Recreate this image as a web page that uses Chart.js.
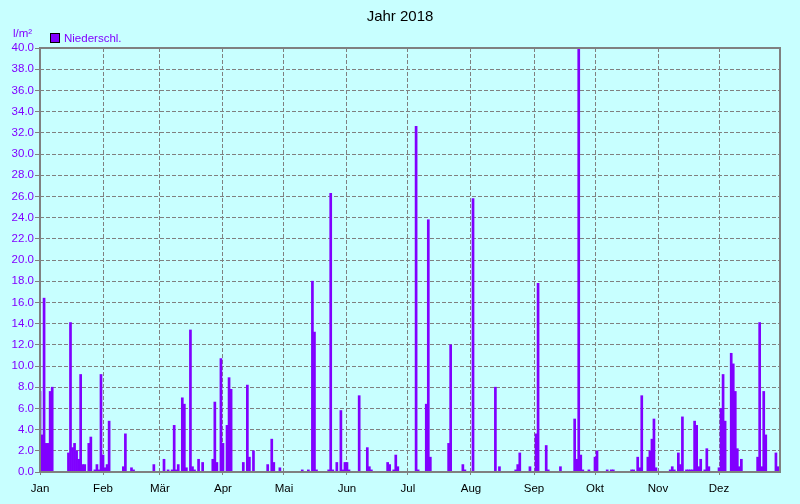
<!DOCTYPE html>
<html><head><meta charset="utf-8">
<script src="https://cdn.jsdelivr.net/npm/chart.js@4/dist/chart.umd.min.js"></script>
<style>html,body{margin:0;padding:0;background:#C8FFFF;} canvas{display:block;}</style>
</head><body>
<canvas id="c" width="800" height="504"></canvas>
<script>
const chartTitle = 'Jahr 2018';
const seriesLabel = 'Niederschl.';
const unitLabel = 'l/m²';
const monthLabels = ['Jan','Feb','Mär','Apr','Mai','Jun','Jul','Aug','Sep','Okt','Nov','Dez'];
const monthStartDays = [0,31,59,90,120,151,181,212,243,273,304,334];
const dayCount = 365;
// day of year (0 = 1 Jan) with precipitation
const wetDays = [0,1,2,3,4,5,6,14,15,16,17,18,19,20,21,22,24,25,27,28,29,30,31,32,33,34,41,42,45,46,56,
  61,63,65,66,67,68,70,71,72,74,75,76,78,80,85,86,87,89,90,92,93,94,100,102,103,105,112,114,115,118,
  129,132,134,135,136,142,143,144,146,148,149,150,151,152,157,161,162,163,171,172,174,175,176,
  185,186,190,191,192,201,202,208,209,213,224,226,234,235,236,241,244,245,249,250,256,
  263,264,265,266,267,270,273,274,279,281,282,291,292,294,295,296,299,300,301,302,303,
  310,311,312,314,315,316,318,319,320,321,322,323,324,325,327,328,329,
  334,335,336,337,340,341,342,343,344,345,353,354,355,356,357,362,363];
// amount in l/m² for each of those days
const wetAmounts = [7.6,3.5,16.4,2.7,2.7,7.6,8.0,1.8,14.1,2.3,2.7,2.0,1.2,9.2,0.7,0.7,2.7,3.3,0.2,0.7,0.2,9.2,1.6,0.4,0.7,4.8,0.5,3.6,0.4,0.2,0.7,
  1.2,0.2,0.2,4.4,0.2,0.7,7.0,6.4,0.4,13.4,0.5,0.2,1.2,0.9,1.2,6.6,0.9,10.7,2.7,4.4,8.9,7.8,0.9,8.2,1.4,2.0,0.7,3.1,0.9,0.4,
  0.2,0.2,18.0,13.2,0.2,0.2,26.3,0.2,0.9,5.8,0.2,0.9,0.9,0.2,7.2,2.3,0.5,0.2,0.9,0.7,0.2,1.6,0.5,
  32.6,0.2,6.4,23.8,1.4,2.7,12.0,0.7,0.2,25.8,8.0,0.5,0.2,0.7,1.8,0.5,3.6,17.8,2.5,0.2,0.5,
  5.0,1.2,39.9,1.6,0.2,0.2,1.4,2.0,0.2,0.2,0.2,0.2,0.2,1.4,0.4,7.2,1.4,2.0,3.1,5.0,0.4,
  0.2,0.5,0.2,1.8,0.7,5.2,0.2,0.2,0.2,0.2,4.8,4.4,0.5,1.2,0.2,2.2,0.5,
  0.4,6.0,9.2,4.8,11.2,10.2,7.6,2.2,0.5,1.2,1.4,14.1,0.5,7.6,3.5,1.8,0.5];
const yMin = 0, yMax = 40, yStep = 2;

const BG = '#C8FFFF';
const PURPLE = '#8000FF';
const GRID = '#808080';
const FONT = '"Liberation Sans", Arial, sans-serif';

const rain = new Array(dayCount).fill(0);
wetDays.forEach((d, i) => { rain[d] = wetAmounts[i]; });
const points = rain.map((v, d) => ({x: d, y: v}));

const decor = {
  id: 'decor',
  beforeDraw(chart) {
    const c = chart.ctx;
    c.save(); c.fillStyle = BG; c.fillRect(0, 0, chart.width, chart.height); c.restore();
  },
  afterDatasetsDraw(chart) {
    const c = chart.ctx, a = chart.chartArea;
    c.save();
    c.strokeStyle = GRID; c.lineWidth = 2;
    c.strokeRect(Math.round(a.left), Math.round(a.top), Math.round(a.right - a.left), Math.round(a.bottom - a.top));
    c.restore();
  },
  afterDraw(chart) {
    const c = chart.ctx;
    c.save();
    c.fillStyle = '#000'; c.font = '15px ' + FONT; c.textAlign = 'center'; c.textBaseline = 'alphabetic';
    c.fillText(chartTitle, 400, 21);
    c.fillStyle = PURPLE; c.fillRect(50, 33, 10, 10);
    c.strokeStyle = '#000'; c.lineWidth = 1; c.strokeRect(50.5, 33.5, 9, 9);
    c.font = '11.5px ' + FONT; c.textAlign = 'left'; c.fillStyle = PURPLE;
    c.fillText(chart.data.datasets[0].label, 64, 42);
    c.fillText(unitLabel, 13, 37);
    c.restore();
  }
};

new Chart(document.getElementById('c'), {
  type: 'bar',
  data: { datasets: [{ label: seriesLabel, data: points, backgroundColor: PURPLE, borderWidth: 0,
    barPercentage: 1, categoryPercentage: 1 }] },
  options: {
    responsive: false, animation: false, devicePixelRatio: 1,
    layout: { padding: { top: 48, right: 20, left: 0, bottom: 0 } },
    plugins: { legend: { display: false }, title: { display: false }, tooltip: { enabled: false } },
    scales: {
      x: {
        type: 'linear', min: 0, max: dayCount - 1, offset: false,
        afterBuildTicks: s => { s.ticks = monthStartDays.map(v => ({ value: v })); },
        afterFit: s => { s.height = 32; },
        ticks: { autoSkip: false, maxRotation: 0, color: '#000', font: { family: FONT, size: 11.5 }, padding: 7,
          callback: v => monthLabels[monthStartDays.indexOf(v)] },
        grid: { color: GRID, lineWidth: 1, offset: false, tickLength: 3, tickColor: GRID },
        border: { display: false, dash: [4, 2] }
      },
      y: {
        min: yMin, max: yMax,
        afterFit: s => { s.width = 40; },
        ticks: { stepSize: yStep, color: PURPLE, font: { family: FONT, size: 11.5 }, padding: 1,
          callback: v => v.toFixed(1) },
        grid: { color: GRID, lineWidth: 1, tickLength: 5, tickColor: GRID },
        border: { display: false, dash: [4, 2] }
      }
    }
  },
  plugins: [decor]
});
</script>
</body></html>
